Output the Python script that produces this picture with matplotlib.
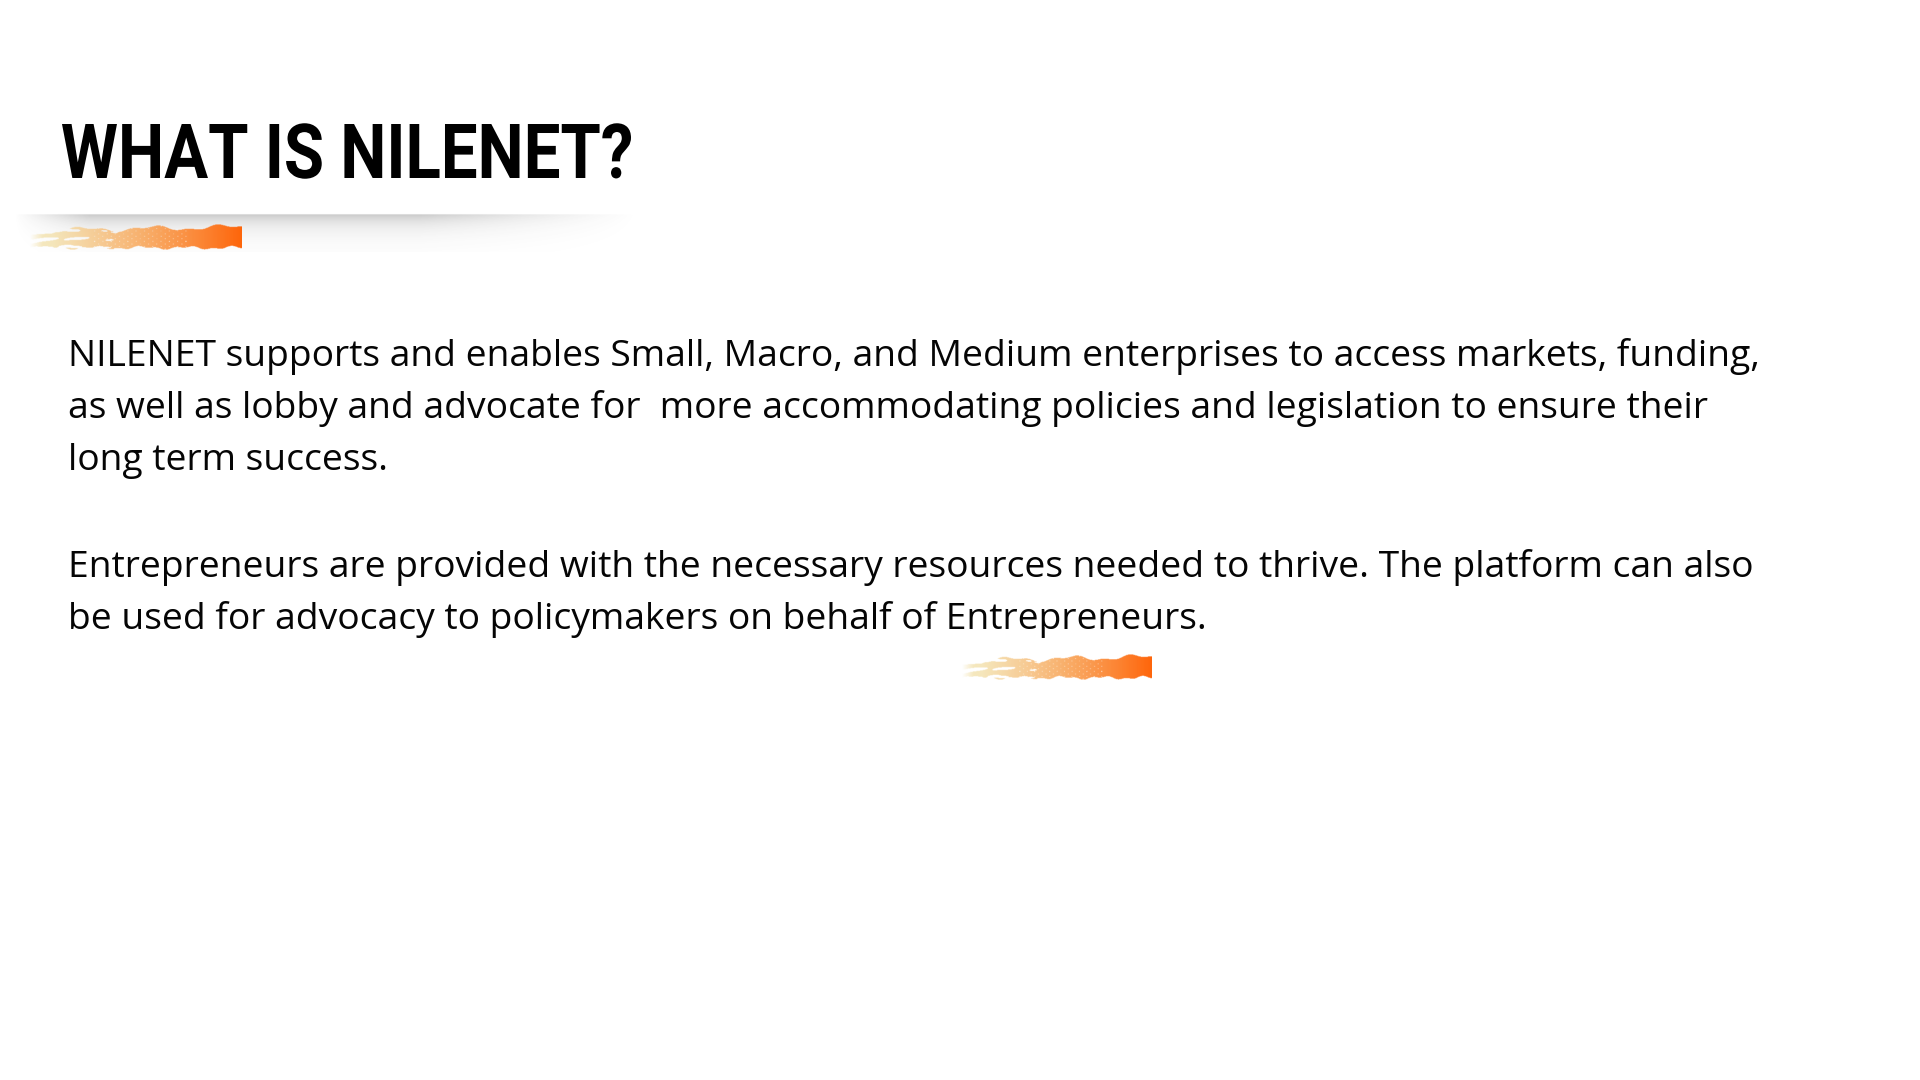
import numpy as np
import matplotlib
matplotlib.use("Agg")
import matplotlib.pyplot as plt
from matplotlib.textpath import TextPath
from matplotlib.font_manager import FontProperties
from matplotlib.patches import PathPatch
from matplotlib.transforms import Affine2D
from matplotlib.colors import to_rgb

# ---- content ----
title = "WHAT IS NILENET?"
para1 = [
    "NILENET supports and enables Small, Macro, and Medium enterprises to access markets, funding,",
    "as well as lobby and advocate for  more accommodating policies and legislation to ensure their",
    "long term success.",
]
para2 = [
    "Entrepreneurs are provided with the necessary resources needed to thrive. The platform can also",
    "be used for advocacy to policymakers on behalf of Entrepreneurs.",
]

W, H = 1920, 1080
fig = plt.figure(figsize=(W / 100, H / 100), dpi=100)
fig.patch.set_facecolor("white")
ax = fig.add_axes([0, 0, 1, 1])
ax.set_xlim(0, W)
ax.set_ylim(H, 0)
ax.axis("off")

# ---- shadow band under title ----
sh_w, sh_h = 640, 40
xs = np.linspace(0, 1, sh_w)
ys = np.linspace(0, 1, sh_h)
X, Y = np.meshgrid(xs, ys)
horiz = np.clip(X / 0.12, 0, 1) * np.clip((1 - X) / 0.35, 0, 1) ** 1.2
vert = np.exp(-Y * 3.2) * np.clip(Y / 0.04, 0, 1)
a = 0.30 * horiz * vert
shadow = np.zeros((sh_h, sh_w, 4))
shadow[..., :3] = 0.25
shadow[..., 3] = a
ax.imshow(shadow, extent=(14, 640, 252, 213), interpolation="bilinear", zorder=1)

# ---- brush strokes ----
def brush(x0, x1, y0, y1, z=3):
    nw, nh = 420, 60
    u = np.linspace(0, 1, nw)
    v = np.linspace(0, 1, nh)
    U, V = np.meshgrid(u, v)
    c0 = np.array(to_rgb("#f3e2ae"))
    c1 = np.array(to_rgb("#f9a65a"))
    c2 = np.array(to_rgb("#ff650a"))
    t = np.clip((U - 0.1) / 0.9, 0, 1)[..., None]
    col = np.where(t < 0.5, c0 + (c1 - c0) * (t / 0.5), c1 + (c2 - c1) * ((t - 0.5) / 0.5))
    top = 0.25 + 0.07 * np.sin(u * 19) + 0.04 * np.sin(u * 47 + 1) - 0.12 * u
    bot = 0.86 + 0.04 * np.sin(u * 29 + 2) + 0.03 * np.sin(u * 71)
    inside = (V > top) & (V < bot)
    # blotchy horizontal streak texture, heavy on the left, sparse on the right
    s1 = np.sin(V * 22 + np.sin(U * 7) * 2.5) * 0.5 + 0.5
    s2 = np.sin(U * 37 + np.sin(V * 11) * 2.0) * 0.5 + 0.5
    s3 = np.sin(U * 90 + V * 30) * 0.5 + 0.5
    streak = s1 * 0.6 + s2 * 0.3 + s3 * 0.1
    thresh = 0.52 + 1.0 * U
    gap = streak > thresh
    # a few small speckles in the middle/right
    speck = (np.sin(U * 160) * np.sin(V * 35 + 1.3) > 0.93) & (U > 0.3) & (U < 0.75)
    alpha = inside & ~gap & ~speck
    edge_l = np.clip(U / 0.06, 0, 1)
    img = np.zeros((nh, nw, 4))
    img[..., :3] = col
    img[..., 3] = alpha * edge_l * (0.8 + 0.2 * U)
    ax.imshow(img, extent=(x0, x1, y1, y0), interpolation="bilinear", zorder=z)

brush(30, 242, 223, 252)
brush(962, 1152, 653, 682)

# ---- title (condensed bold) ----
fp = FontProperties(family="Roboto", weight="bold")
tp = TextPath((0, 0), title, size=100, prop=fp)
bb = tp.get_extents()
cap = TextPath((0, 0), "H", size=100, prop=fp).get_extents()
tx0, tx1, t_top, t_base = 62, 631, 124, 178
sx = (tx1 - tx0) / bb.width
sy = (t_base - t_top) / cap.height
tr = Affine2D().translate(-bb.x0, 0).scale(sx, -sy).translate(tx0, t_base)
ax.add_patch(PathPatch(tr.transform_path(tp), facecolor="black", edgecolor="none", zorder=4))

# ---- body text ----
body_font = "Open Sans"
fig.canvas.draw()
renderer = fig.canvas.get_renderer()
probe = ax.text(0, 0, para1[0], fontsize=20, family=body_font)
w20 = probe.get_window_extent(renderer).width
probe.remove()
x_left = 68
fs = 20 * (1762 - x_left) / w20

base1 = [366, 418, 470]
base2 = [577, 629]
for line, b in zip(para1, base1):
    ax.text(x_left, b, line, fontsize=fs, family=body_font, color="#050505", va="baseline", ha="left", zorder=5)
for line, b in zip(para2, base2):
    ax.text(x_left, b, line, fontsize=fs, family=body_font, color="#050505", va="baseline", ha="left", zorder=5)

fig.savefig("out.png", dpi=100, facecolor="white")
